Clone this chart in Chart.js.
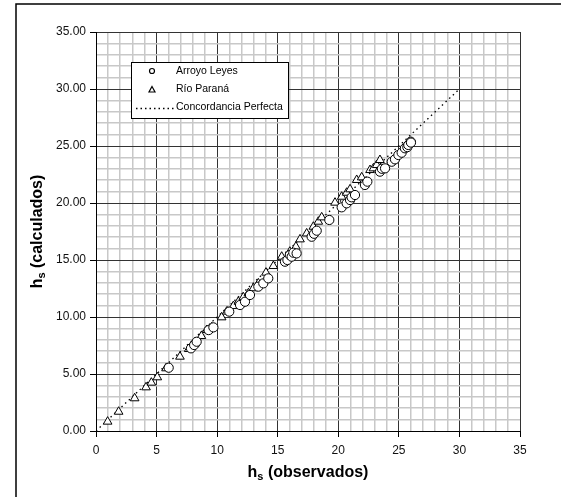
<!DOCTYPE html>
<html>
<head>
<meta charset="utf-8">
<script src="https://cdn.jsdelivr.net/npm/chart.js@4"></script>
<style>
html,body{margin:0;padding:0;background:#fff;}
canvas{display:block;}
</style>
</head>
<body>
<canvas id="c" width="561" height="497"></canvas>
<script>
// Arroyo Leyes (circles): observed vs calculated
const obsLeyes  = [6.0, 7.84, 8.1, 8.31, 9.3, 9.69, 11.0, 11.89, 12.3, 12.71, 13.4, 13.81, 14.22, 15.6, 15.8, 16.0, 16.15, 16.29, 16.56, 17.8, 18.0, 18.22, 19.26, 20.28, 20.69, 20.97, 21.1, 21.38, 22.2, 22.4, 23.44, 23.6, 23.86, 24.41, 24.68, 24.96, 25.23, 25.5, 25.7, 25.78, 25.98, 26.0];
const calcLeyes = [5.55, 7.25, 7.54, 7.83, 8.85, 9.09, 10.47, 11.05, 11.34, 11.93, 12.66, 12.95, 13.39, 14.85, 15.0, 15.44, 15.29, 15.64, 15.58, 17.04, 17.3, 17.57, 18.51, 19.62, 19.97, 20.26, 20.5, 20.7, 21.58, 21.87, 22.75, 23.0, 23.04, 23.62, 23.83, 24.21, 24.41, 24.8, 24.9, 25.09, 25.38, 25.3];
// Río Paraná (triangles)
const obsParana  = [0.96, 1.87, 3.19, 4.13, 4.57, 5.06, 5.78, 6.93, 7.65, 8.2, 8.7, 9.14, 9.55, 10.37, 10.79, 11.34, 11.75, 12.16, 12.58, 12.99, 13.4, 14.03, 14.64, 15.33, 16.0, 16.5, 16.84, 17.39, 17.94, 18.35, 18.63, 19.73, 20.28, 20.69, 20.97, 21.52, 21.93, 22.62, 22.9, 23.17, 23.44];
const calcParana = [0.82, 1.69, 2.87, 3.83, 4.24, 4.71, 5.5, 6.52, 7.19, 7.69, 8.33, 8.86, 9.09, 9.97, 10.47, 10.96, 11.34, 11.73, 12.08, 12.52, 12.95, 13.89, 14.47, 15.29, 15.73, 16.17, 16.81, 17.33, 17.92, 18.36, 18.74, 20.03, 20.55, 20.9, 21.2, 22.02, 22.25, 22.89, 23.04, 23.33, 23.77];
// Concordancia perfecta
const lineX = [0, 30];
const lineY = [0, 30];
// Axis ranges / labels
const axisMin = 0, axisMax = 35, minorStep = 1, majorStep = 5;
const seriesNames = ['Arroyo Leyes', 'Río Paraná', 'Concordancia Perfecta'];
const xTitle = ['h', 's', ' (observados)'];
const yTitle = ['h', 's', ' (calculados)'];

const toPts = (xs, ys) => xs.map((x, i) => ({x: x, y: ys[i]}));
const FONT = '"Liberation Sans", Arial, sans-serif';
const isMajor = v => Math.abs(v % majorStep) < 1e-9;

const framePlugin = {
  id: 'frame',
  beforeDraw(chart) {
    const ctx = chart.ctx;
    ctx.save();
    ctx.fillStyle = '#fff';
    ctx.fillRect(0, 0, chart.width, chart.height);
    ctx.strokeStyle = '#000';
    ctx.lineWidth = 1.5;
    ctx.beginPath();
    ctx.moveTo(16, chart.height + 2);
    ctx.lineTo(16, 4);
    ctx.lineTo(chart.width + 2, 4);
    ctx.stroke();
    ctx.restore();
  }
};

function drawSubTitle(ctx, parts, cx, cy, rot) {
  ctx.save();
  ctx.translate(cx, cy);
  if (rot) ctx.rotate(-Math.PI / 2);
  const big = 'bold 16px ' + FONT, small = 'bold 11px ' + FONT;
  ctx.font = big; const w0 = ctx.measureText(parts[0]).width;
  ctx.font = small; const w1 = ctx.measureText(parts[1]).width;
  ctx.font = big; const w2 = ctx.measureText(parts[2]).width;
  let x = -(w0 + w1 + w2) / 2;
  ctx.fillStyle = '#000';
  ctx.textBaseline = 'alphabetic';
  ctx.textAlign = 'left';
  ctx.font = big; ctx.fillText(parts[0], x, 6); x += w0;
  ctx.font = small; ctx.fillText(parts[1], x, 9); x += w1;
  ctx.font = big; ctx.fillText(parts[2], x, 6);
  ctx.restore();
}

const overlayPlugin = {
  id: 'overlay',
  afterDraw(chart) {
    const ctx = chart.ctx;
    const a = chart.chartArea;
    drawSubTitle(ctx, xTitle, (a.left + a.right) / 2, 471, false);
    drawSubTitle(ctx, yTitle, 36, (a.top + a.bottom) / 2, true);
    // legend
    ctx.save();
    ctx.fillStyle = '#fff';
    ctx.strokeStyle = '#000';
    ctx.lineWidth = 1;
    ctx.fillRect(131.5, 62.5, 157, 56);
    ctx.strokeRect(131.5, 62.5, 157, 56);
    ctx.font = '10.5px ' + FONT;
    ctx.fillStyle = '#000';
    ctx.textBaseline = 'middle';
    ctx.textAlign = 'left';
    const ds = chart.data.datasets;
    // circle
    ctx.beginPath(); ctx.arc(152, 71, 2.5, 0, Math.PI * 2); ctx.lineWidth = 1.2; ctx.stroke();
    ctx.fillText(ds[0].label, 176, 71.5);
    // triangle
    ctx.beginPath(); ctx.moveTo(152, 86.5); ctx.lineTo(155, 92); ctx.lineTo(149, 92); ctx.closePath(); ctx.stroke();
    ctx.fillText(ds[1].label, 176, 89.5);
    // dotted line
    ctx.setLineDash([1.5, 3]); ctx.lineWidth = 1.3;
    ctx.beginPath(); ctx.moveTo(136, 108.5); ctx.lineTo(175, 108.5); ctx.stroke();
    ctx.setLineDash([]);
    ctx.fillText(ds[2].label, 176, 107.5);
    ctx.restore();
  }
};

const gridColor = c => (c.tick && isMajor(c.tick.value)) ? '#333' : '#c8c8c8';
const gridWidth = c => (c.tick && isMajor(c.tick.value)) ? 1 : 1.5;
const tickColor = c => (c.tick && isMajor(c.tick.value)) ? '#000' : 'rgba(0,0,0,0)';

new Chart(document.getElementById('c'), {
  type: 'scatter',
  data: {
    datasets: [
      {
        label: seriesNames[0],
        data: toPts(obsLeyes, calcLeyes),
        pointStyle: 'circle',
        pointRadius: 4.6,
        pointBorderWidth: 1,
        borderColor: '#000',
        backgroundColor: '#fff'
      },
      {
        label: seriesNames[1],
        data: toPts(obsParana, calcParana),
        pointStyle: 'triangle',
        pointRadius: 5,
        pointBorderWidth: 1,
        borderColor: '#000',
        backgroundColor: '#fff'
      },
      {
        label: seriesNames[2],
        data: toPts(lineX, lineY),
        showLine: true,
        pointRadius: 0,
        borderColor: '#000',
        borderWidth: 1.3,
        borderDash: [1.5, 3.5],
        backgroundColor: '#000'
      }
    ]
  },
  options: {
    responsive: false,
    animation: false,
    devicePixelRatio: 1,
    layout: {padding: {left: 0, top: 32, right: 41, bottom: 0}},
    plugins: {legend: {display: false}, tooltip: {enabled: false}, title: {display: false}},
    scales: {
      x: {
        type: 'linear', min: axisMin, max: axisMax,
        afterFit: s => { s.height = 66; },
        ticks: {
          stepSize: minorStep, autoSkip: false, maxRotation: 0, padding: 6,
          color: '#111', font: {family: FONT, size: 12},
          callback: v => isMajor(v) ? String(v) : ''
        },
        grid: {color: gridColor, lineWidth: gridWidth, tickColor: tickColor, tickLength: 6, drawTicks: true},
        border: {display: true, color: '#000', width: 1}
      },
      y: {
        type: 'linear', min: axisMin, max: axisMax,
        afterFit: s => { s.width = 96; },
        ticks: {
          stepSize: minorStep, autoSkip: false, padding: 4,
          color: '#111', font: {family: FONT, size: 12},
          callback: v => isMajor(v) ? v.toFixed(2) : ''
        },
        grid: {color: gridColor, lineWidth: gridWidth, tickColor: tickColor, tickLength: 6, drawTicks: true},
        border: {display: true, color: '#000', width: 1}
      }
    }
  },
  plugins: [framePlugin, overlayPlugin]
});
</script>
</body>
</html>
